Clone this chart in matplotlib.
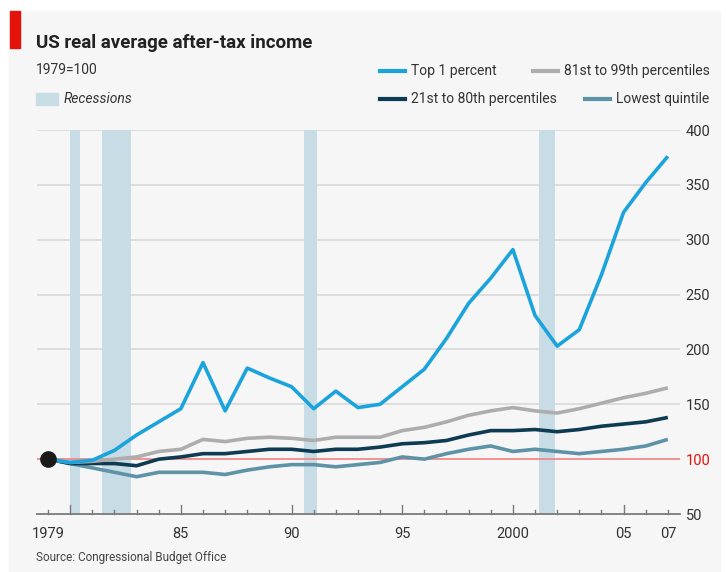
import numpy as np
import matplotlib.pyplot as plt
from matplotlib.lines import Line2D
from matplotlib.patches import Rectangle

plt.rcParams['font.family'] = ['Roboto', 'DejaVu Sans']

# Dane (1979=100)
lata = list(range(1979, 2008))
top1 = [100, 97, 99, 108, 122, 134, 146, 188, 144, 183, 174, 166, 146, 162, 147, 150,
        166, 182, 210, 242, 265, 291, 231, 203, 218, 268, 325, 352, 376]
p81_99 = [100, 97, 98, 100, 102, 107, 109, 118, 116, 119, 120, 119, 117, 120, 120, 120,
          126, 129, 134, 140, 144, 147, 144, 142, 146, 151, 156, 160, 165]
p21_80 = [100, 96, 96, 96, 94, 100, 102, 105, 105, 107, 109, 109, 107, 109, 109, 111,
          114, 115, 117, 122, 126, 126, 127, 125, 127, 130, 132, 134, 138]
najnizszy = [100, 96, 92, 88, 84, 88, 88, 88, 86, 90, 93, 95, 95, 93, 95, 97,
             102, 100, 105, 109, 112, 107, 109, 107, 105, 107, 109, 112, 118]
recesje = [(1980.0, 1980.45), (1981.45, 1982.75), (1990.55, 1991.15), (2001.2, 2001.9)]

serie = [
    ("Top 1 percent", top1, '#1ba3dc'),
    ("81st to 99th percentiles", p81_99, '#adadad'),
    ("21st to 80th percentiles", p21_80, '#0c3b52'),
    ("Lowest quintile", najnizszy, '#5e92a7'),
]

W, H = 726, 572
fig = plt.figure(figsize=(W / 100, H / 100), dpi=100, facecolor='white')

# Tło i czerwony znacznik
fig.patches.append(Rectangle((9 / W, 0), (W - 15) / W, 1 - 11 / H, transform=fig.transFigure,
                             color='#f6f6f6', zorder=-10))
fig.patches.append(Rectangle((10 / W, 1 - 48 / H), 10 / W, 37 / H, transform=fig.transFigure,
                             color='#e3120b', zorder=-5))

ax = fig.add_axes([37 / W, 1 - 514 / H, 643 / W, 384 / H])
ax.set_facecolor('none')
ax.set_xlim(1978.5, 2007.55)
ax.set_ylim(50, 400)

for a, b in recesje:
    ax.axvspan(a, b, color='#c8dce5', zorder=1, lw=0)

for yv in range(150, 401, 50):
    ax.axhline(yv, color='#d6d6d6', lw=1.1, zorder=0.5)
ax.axhline(100, color='#f08a8a', lw=1.3, zorder=1.5)
ax.axhline(50, color='#7a7a7a', lw=1.3, zorder=2, clip_on=False)

for nazwa, dane, kolor in serie[::-1]:
    ax.plot(lata, dane, color=kolor, lw=2.6, zorder=3, solid_capstyle='butt')
ax.plot([1979], [100], 'o', color='#1a1a1a', ms=11, zorder=5, clip_on=False)

for s in ax.spines.values():
    s.set_visible(False)

ax.yaxis.tick_right()
ax.set_yticks(range(50, 401, 50))
ax.tick_params(axis='y', length=0, pad=4, labelsize=10.5, labelcolor='#333333')
for lbl in ax.get_yticklabels():
    if lbl.get_text() == '100':
        lbl.set_color('#e3120b')

ax.set_xticks([1979, 1985, 1990, 1995, 2000, 2005, 2007])
ax.set_xticklabels(['1979', '85', '90', '95', '2000', '05', '07'])
ax.tick_params(axis='x', length=0, pad=9, labelsize=10.5, labelcolor='#333333')
# Kreski podziałki skierowane do góry
for r in lata:
    dl = 9 if r in (1980, 1985, 1990, 1995, 2000, 2005) else 4
    ax.plot([r, r], [50, 50 + dl / 1.097], color='#7a7a7a', lw=1, zorder=2, clip_on=False)

# Teksty
fig.text(36 / W, 1 - 43 / H, "US real average after-tax income", fontsize=13.5, fontweight='bold',
         color='#222222', va='center', ha='left')
fig.text(36 / W, 1 - 70 / H, "1979=100", fontsize=10, color='#333333', va='center', ha='left')
fig.text(36 / W, 1 - 558 / H, "Source: Congressional Budget Office", fontsize=8.5, color='#444444',
         va='center', ha='left')

fig.patches.append(Rectangle((36 / W, 1 - 105 / H), 22 / W, 12 / H, transform=fig.transFigure,
                             color='#c8dce5'))
fig.text(64 / W, 1 - 99 / H, "Recessions", fontsize=10, style='italic', color='#333333',
         va='center', ha='left')

pozycje = [(380, 71), (533, 71), (380, 99), (585, 99)]
for (nazwa, dane, kolor), (px, py) in zip(serie, pozycje):
    fig.add_artist(Line2D([px / W, (px + 25) / W], [1 - py / H, 1 - py / H], color=kolor, lw=3,
                          transform=fig.transFigure))
    fig.text((px + 31) / W, 1 - py / H, nazwa, fontsize=10, color='#333333', va='center',
             ha='left')

fig.savefig('out.png', dpi=100, facecolor=fig.get_facecolor())
